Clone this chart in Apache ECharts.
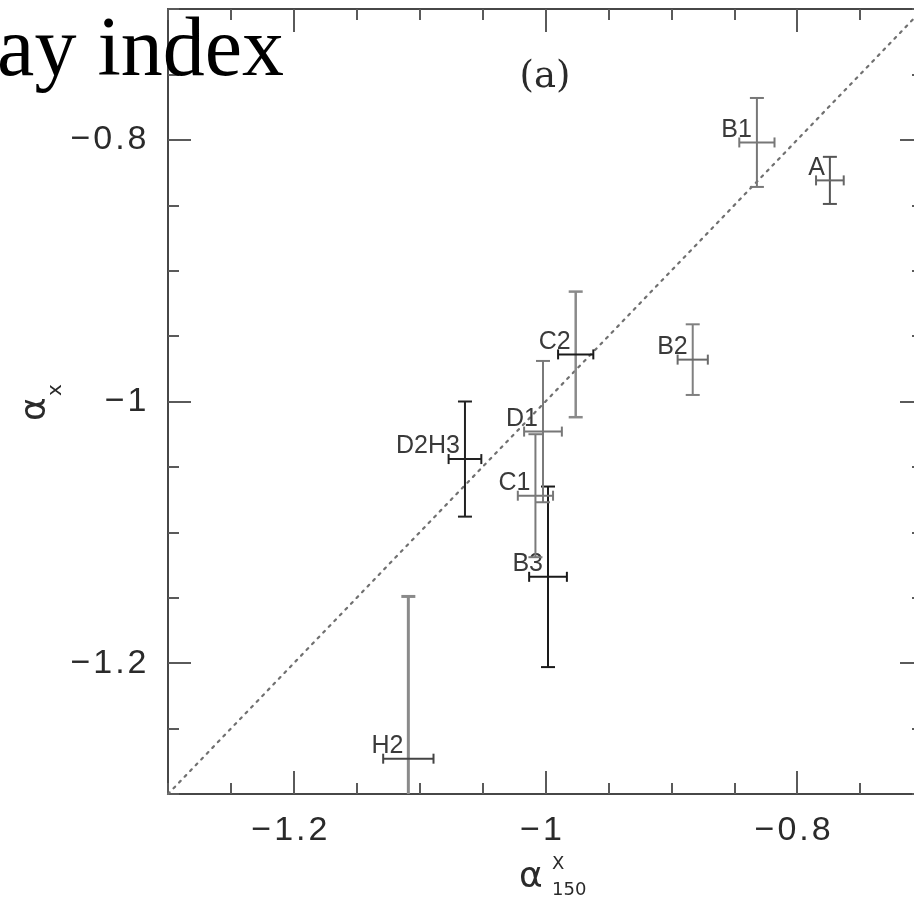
<!DOCTYPE html>
<html>
<head>
<meta charset="utf-8">
<script src="https://cdn.jsdelivr.net/npm/echarts@6/dist/echarts.min.js"></script>
<style>
  html, body { margin: 0; padding: 0; background: #fff; }
  #chart { width: 914px; height: 901px; }
</style>
</head>
<body>
<div id="chart"></div>
<script>
// Region-by-region spectral indices: alpha_150^X (x) against alpha_X (y), with 1-sigma errors
const regionNames = ['A', 'B1', 'B2', 'B3', 'C1', 'C2', 'D1', 'D2H3', 'H2'];
const alpha150    = [-0.774, -0.832, -0.883, -0.998, -1.008, -0.976, -1.002, -1.064, -1.109];
const alpha150Err = [0.011, 0.014, 0.012, 0.015, 0.014, 0.014, 0.015, 0.013, 0.020];
const alphaX      = [-0.831, -0.802, -0.968, -1.134, -1.072, -0.964, -1.023, -1.044, -1.273];
const alphaXErr   = [0.018, 0.034, 0.027, 0.069, 0.047, 0.048, 0.054, 0.044, 0.124];

const axisMin = -1.3;
const axisMax = -0.7;
const majorTicks = [-1.2, -1, -0.8];
const minorStep = 0.05;
const identityLine = [[axisMin, axisMin], [axisMax, axisMax]];

// stroke colours of each cross: vertical bar / horizontal bar
const barStyle = {
  'A':    { v: '#555', h: '#666', vw: 2 },
  'B1':   { v: '#777', h: '#777', vw: 2 },
  'B2':   { v: '#808080', h: '#6a6a6a', vw: 2 },
  'B3':   { v: '#1a1a1a', h: '#1a1a1a', vw: 2 },
  'C1':   { v: '#7a7a7a', h: '#777', vw: 2 },
  'C2':   { v: '#8a8a8a', h: '#1a1a1a', vw: 2.5 },
  'D1':   { v: '#7a7a7a', h: '#777', vw: 2 },
  'D2H3': { v: '#222', h: '#222', vw: 2 },
  'H2':   { v: '#8a8a8a', h: '#444', vw: 3 }
};

// tick text: true minus sign, each glyph spaced out a little
const spacedTick = v => {
  const r = Math.round(v * 100) / 100;
  const s = (r < 0 ? '\u2212' : '') + String(Math.abs(r));
  return s.split('').map(ch => '{c|' + ch + '}').join('');
};

const frameColor = '#474747';
const tickColor = '#5a5a5a';
const tickRich = {
  c: { fontFamily: 'Liberation Sans', fontSize: 34, color: '#2a2a2a', padding: [0, 1.5] }
};

function majorAxis(pos, withLabels, margin, pad) {
  return {
    type: 'value', position: pos, min: axisMin, max: axisMax,
    axisLine: { show: true, onZero: false, lineStyle: { color: frameColor, width: 2 } },
    axisTick: { show: true, inside: true, length: 23, customValues: majorTicks,
                lineStyle: { color: tickColor, width: 2 } },
    axisLabel: withLabels
      ? { show: true, customValues: majorTicks, margin: margin, padding: pad,
          formatter: spacedTick, rich: tickRich }
      : { show: false },
    splitLine: { show: false }
  };
}
function minorAxis(pos) {
  return {
    type: 'value', position: pos, min: axisMin, max: axisMax, interval: minorStep,
    axisLine: { show: false },
    axisTick: { show: true, inside: true, length: 11, lineStyle: { color: tickColor, width: 2 } },
    axisLabel: { show: false },
    splitLine: { show: false }
  };
}

function renderCross(params, api) {
  const name = regionNames[params.dataIndex];
  const st = barStyle[name];
  const x = api.value(0), y = api.value(1), ex = api.value(2), ey = api.value(3);
  const c = api.coord([x, y]);
  const l = api.coord([x - ex, y]), r = api.coord([x + ex, y]);
  const t = api.coord([x, y + ey]), b = api.coord([x, y - ey]);
  const cs = params.coordSys;
  const yLow = cs.y + cs.height, yHigh = cs.y;
  const capV = 7, capH = 5;
  const children = [];
  const vStyle = { stroke: st.v, lineWidth: st.vw, fill: null };
  const hStyle = { stroke: st.h, lineWidth: 2, fill: null };
  const top = Math.max(t[1], yHigh), bot = Math.min(b[1], yLow);
  children.push({ type: 'line', shape: { x1: c[0], y1: top, x2: c[0], y2: bot }, style: vStyle });
  if (t[1] >= yHigh) children.push({ type: 'line', shape: { x1: c[0] - capV, y1: t[1], x2: c[0] + capV, y2: t[1] }, style: vStyle });
  if (b[1] <= yLow) children.push({ type: 'line', shape: { x1: c[0] - capV, y1: b[1], x2: c[0] + capV, y2: b[1] }, style: vStyle });
  children.push({ type: 'line', shape: { x1: l[0], y1: c[1], x2: r[0], y2: c[1] }, style: hStyle });
  children.push({ type: 'line', shape: { x1: l[0], y1: c[1] - capH, x2: l[0], y2: c[1] + capH }, style: hStyle });
  children.push({ type: 'line', shape: { x1: r[0], y1: c[1] - capH, x2: r[0], y2: c[1] + capH }, style: hStyle });
  children.push({
    type: 'text', x: c[0] - 5, y: c[1],
    style: { text: name, align: 'right', verticalAlign: 'bottom',
             font: '25px "Liberation Sans"', fill: '#3a3a3a' }
  });
  return { type: 'group', children: children };
}

const chart = echarts.init(document.getElementById('chart'), null, { renderer: 'canvas' });
chart.setOption({
  animation: false,
  backgroundColor: '#fff',
  grid: { left: 168, top: 9, width: 755, height: 785, containLabel: false, outerBoundsMode: 'none' },
  xAxis: [
    majorAxis('bottom', true, 20, [0, 9, 0, 0]),
    minorAxis('bottom'),
    majorAxis('top', false),
    minorAxis('top')
  ],
  yAxis: [
    majorAxis('left', true, 20, 0),
    minorAxis('left'),
    majorAxis('right', false),
    minorAxis('right')
  ],
  series: [
    {
      type: 'line', xAxisIndex: 0, yAxisIndex: 0, data: identityLine,
      symbol: 'none', silent: true,
      lineStyle: { color: '#707070', width: 2.2, type: [2.2, 5.8], cap: 'round' },
      z: 2
    },
    {
      type: 'custom', xAxisIndex: 0, yAxisIndex: 0,
      renderItem: renderCross,
      data: regionNames.map((n, i) => [alpha150[i], alphaX[i], alpha150Err[i], alphaXErr[i]]),
      encode: { x: 0, y: 1 },
      z: 3
    }
  ],
  graphic: [
    { type: 'text', x: 545, y: 77, z: 10,
      style: { text: '(a)', font: '37px "DejaVu Serif"', fill: '#2a2a2a', align: 'center', verticalAlign: 'middle' } },
    { type: 'text', x: 284, y: 53, z: 20,
      style: { text: 'ay index', font: '84px "Liberation Serif"', fill: '#000',
               align: 'right', verticalAlign: 'middle' } },
    // y-axis title: alpha with subscript x, read bottom to top
    { type: 'group', x: 54, y: 421, rotation: Math.PI / 2, z: 10,
      children: [
        { type: 'text', x: 0, y: 0,
          style: { text: '\u03b1', font: '36px "DejaVu Sans"', fill: '#2a2a2a', align: 'left', verticalAlign: 'bottom' } },
        { type: 'text', x: 25, y: 12,
          style: { text: 'x', font: '20px "DejaVu Sans"', fill: '#2a2a2a', align: 'left', verticalAlign: 'bottom' } }
      ] },
    // x-axis title: alpha with superscript X and subscript 150
    { type: 'group', x: 519, y: 896, z: 10,
      children: [
        { type: 'text', x: 0, y: 0,
          style: { text: '\u03b1', font: '36px "DejaVu Sans"', fill: '#2a2a2a', align: 'left', verticalAlign: 'bottom' } },
        { type: 'text', x: 33, y: -23,
          style: { text: 'X', font: '18px "DejaVu Sans"', fill: '#2a2a2a', align: 'left', verticalAlign: 'bottom' } },
        { type: 'text', x: 33, y: 3,
          style: { text: '150', font: '18px "DejaVu Sans"', fill: '#2a2a2a', align: 'left', verticalAlign: 'bottom' } }
      ] }
  ]
});
</script>
</body>
</html>
